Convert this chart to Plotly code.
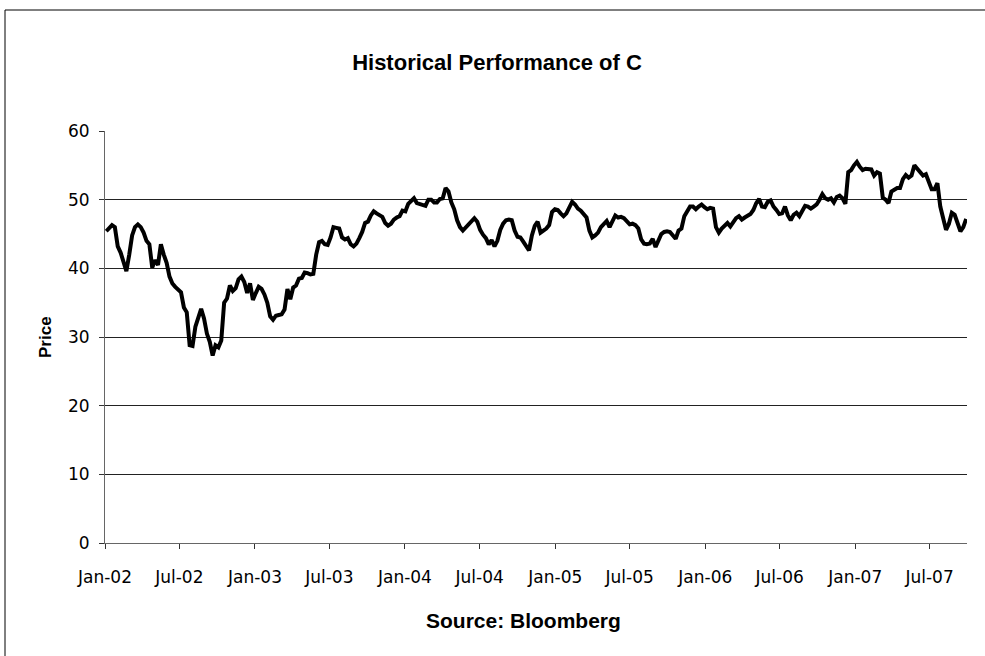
import pandas as pd
import plotly.graph_objects as go

# weekly closing prices of C (week ending Friday)
p2002 = [45.4, 45.8, 46.3, 46.0, 43.2, 42.3, 41.0, 39.6, 42.0, 44.8, 46.0, 46.4, 46.0,
         45.2, 44.0, 43.5, 40.1, 41.2, 40.5, 43.5, 42.0, 40.8, 38.8, 37.8, 37.3, 36.8,
         36.5, 34.3, 33.6, 28.8, 28.7, 31.5, 32.8, 34.1, 32.7, 30.5, 29.3, 27.3, 28.8,
         28.5, 29.5, 35.0, 35.6, 37.5, 36.7, 37.1, 38.4, 38.8, 38.0, 36.4, 37.8, 35.4]
p2003 = [36.4, 37.3, 37.0, 36.2, 35.0, 33.0, 32.5, 33.1, 33.2, 33.3, 34.0, 37.0, 35.5,
         37.2, 37.5, 38.5, 38.6, 39.4, 39.3, 39.1, 39.2, 42.0, 43.8, 44.0, 43.5, 43.4,
         44.5, 46.0, 45.9, 45.8, 44.5, 44.2, 44.4, 43.5, 43.2, 43.6, 44.4, 45.3, 46.6,
         46.8, 47.7, 48.3, 48.0, 47.7, 47.5, 46.6, 46.2, 46.5, 47.1, 47.4, 47.6, 48.4]
p2004 = [48.3, 49.4, 49.8, 50.2, 49.5, 49.4, 49.3, 49.1, 50.0, 50.0, 49.6, 49.6, 50.1,
         50.2, 51.7, 51.2, 49.6, 48.6, 47.0, 46.0, 45.5, 45.9, 46.5, 46.7, 47.3, 46.8,
         45.6, 44.9, 44.4, 43.5, 44.1, 43.2, 44.0, 45.6, 46.5, 47.0, 47.1, 47.0, 45.5,
         44.6, 44.5, 43.9, 43.3, 42.6, 44.8, 46.2, 46.8, 45.2, 45.5, 45.8, 46.3, 48.2,
         48.6]
p2005 = [48.5, 48.0, 47.6, 48.0, 48.8, 49.7, 49.3, 48.7, 48.4, 48.0, 47.4, 45.5, 44.5,
         44.8, 45.2, 46.0, 46.5, 46.9, 46.0, 47.0, 47.7, 47.4, 47.5, 47.3, 46.8, 46.4,
         46.5, 46.3, 45.8, 44.2, 43.6, 43.5, 43.6, 44.3, 43.1, 44.2, 45.0, 45.3, 45.4,
         45.3, 44.9, 44.3, 45.5, 45.8, 47.6, 48.3, 49.0, 49.0, 48.6, 49.0, 49.3, 48.9]
p2006 = [48.6, 48.8, 48.7, 46.0, 45.2, 45.8, 46.3, 46.6, 46.1, 46.8, 47.3, 47.6, 47.1,
         47.4, 47.7, 47.9, 48.5, 49.5, 50.1, 49.0, 48.9, 49.7, 49.9, 49.0, 48.5, 47.9,
         48.0, 49.0, 47.7, 47.0, 47.8, 48.1, 47.6, 48.5, 49.1, 49.0, 48.7, 49.0, 49.3,
         50.0, 50.8, 50.2, 50.0, 50.2, 49.6, 50.4, 50.6, 50.2, 49.4, 54.0, 54.3, 55.0]
p2007 = [55.5, 54.8, 54.3, 54.5, 54.5, 54.4, 53.5, 54.0, 53.8, 50.3, 50.0, 49.5, 51.2,
         51.5, 51.7, 51.7, 53.0, 53.6, 53.2, 53.5, 55.0, 54.5, 53.9, 53.5, 53.7, 52.5,
         51.5, 51.5, 52.4, 49.0, 47.0, 45.6, 46.5, 48.1, 47.8, 46.5, 45.4, 46.0, 47.2]

price = p2002 + p2003 + p2004 + p2005 + p2006 + p2007
dates = pd.date_range('2002-01-04', periods=len(price), freq='W-FRI')

y_ticks = [0, 10, 20, 30, 40, 50, 60]

fig = go.Figure()
fig.add_trace(go.Scatter(x=dates, y=price, mode='lines',
                         line=dict(color='black', width=4),
                         showlegend=False, hoverinfo='x+y'))

tick_font = dict(family='DejaVu Sans', size=17, color='black')

fig.update_layout(
    width=985, height=656,
    paper_bgcolor='white', plot_bgcolor='white',
    margin=dict(l=105, r=18, t=131, b=113),
    title=dict(text='<b>Historical Performance of C</b>',
               font=dict(family='Liberation Sans, Arial', size=22, color='black'),
               x=497 / 985, xref='container', xanchor='center',
               y=1 - 62 / 656, yref='container', yanchor='middle'),
    xaxis=dict(type='date', range=['2002-01-01', '2007-09-30'],
               tick0='2002-01-01', dtick='M6', tickformat='%b-%y',
               showgrid=False, zeroline=False,
               showline=True, linecolor='#666', linewidth=1,
               ticks='outside', ticklen=5, tickcolor='#333',
               tickfont=tick_font, ticklabelstandoff=14),
    yaxis=dict(range=[0, 60], tickvals=y_ticks,
               showgrid=True, gridcolor='#222', gridwidth=1,
               zeroline=False,
               showline=True, linecolor='#666', linewidth=1,
               ticks='outside', ticklen=5, tickcolor='#333',
               tickfont=tick_font, ticklabelstandoff=6),
    annotations=[
        dict(text='<b>Price</b>', x=(45 - 105) / 862, y=0.5, xref='paper', yref='paper',
             textangle=-90, showarrow=False,
             font=dict(family='Liberation Sans, Arial', size=17, color='black'),
             xanchor='center', yanchor='middle'),
        dict(text='<b>Source: Bloomberg</b>', x=(523 - 105) / 862, y=(543 - 620) / 412,
             xref='paper', yref='paper', showarrow=False,
             font=dict(family='Liberation Sans, Arial', size=21, color='black'),
             xanchor='center', yanchor='middle'),
    ],
    # chart border: only the left and top edges fall inside the picture
    shapes=[
        dict(type='line', xref='paper', yref='paper',
             x0=(5 - 105) / 862, x1=(5 - 105) / 862, y0=-0.4, y1=(543 - 10) / 412,
             line=dict(color='black', width=1)),
        dict(type='line', xref='paper', yref='paper',
             x0=(5 - 105) / 862, x1=1.2, y0=(543 - 10) / 412, y1=(543 - 10) / 412,
             line=dict(color='black', width=1)),
    ],
)

fig.write_html('out.html', config={'displayModeBar': False},
               post_script="document.body.style.margin='0';")
